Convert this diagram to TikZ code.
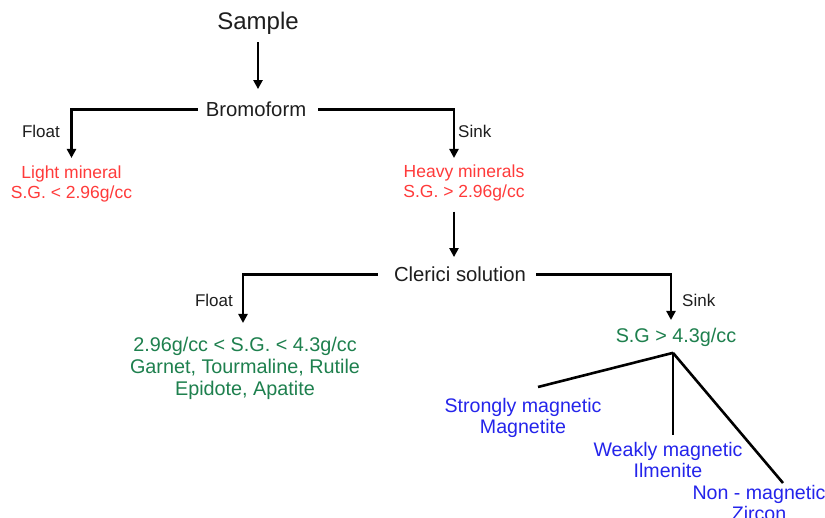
\documentclass[tikz,border=0pt]{standalone}
\usepackage{fontspec}
\setmainfont{Liberation Sans}
\usetikzlibrary{arrows.meta}
\definecolor{txtblack}{RGB}{30,30,30}
\definecolor{minred}{RGB}{255,58,58}
\definecolor{mingreen}{RGB}{30,128,78}
\definecolor{minblue}{RGB}{36,36,235}
\tikzset{
  lbl/.style={inner sep=0pt, text=txtblack},
  big/.style={lbl, font=\fontsize{24}{28}\selectfont},
  stage/.style={lbl, font=\fontsize{20.3}{24}\selectfont},
  small/.style={lbl, font=\fontsize{17}{20}\selectfont},
  redtxt/.style={inner sep=0pt, align=center, text=minred, font=\fontsize{17.5}{20}\selectfont},
  greentxt/.style={inner sep=0pt, align=center, text=mingreen, font=\fontsize{19.8}{22}\selectfont},
  bluetxt/.style={inner sep=0pt, align=center, text=minblue, font=\fontsize{19.6}{21.5}\selectfont},
  arr/.style={draw=black, line width=2.6pt, -{Triangle[width=9pt,length=9pt]}},
  branch/.style={draw=black, line width=2.6pt, line cap=butt},
}
\begin{document}
\begin{tikzpicture}[x=1pt,y=-1pt]
\clip (0,0) rectangle (825,518);
\fill[white] (0,0) rectangle (825,518);

% nodes
\node[big, anchor=base] (sample) at (258,30) {Sample};
\node[stage, anchor=base] (brom) at (256,117) {Bromoform};
\node[small, anchor=base east] (float1) at (60,138) {Float};
\node[small, anchor=base west] (sink1) at (458,138) {Sink};
\node[redtxt, anchor=north] (light) at (71.5,166) {Light mineral\\S.G. < 2.96g/cc};
\node[redtxt, anchor=north] (heavy) at (464,165) {Heavy minerals\\S.G. > 2.96g/cc};
\node[stage, anchor=base] (clerici) at (460,282) {Clerici solution};
\node[small, anchor=base east] (float2) at (233,307) {Float};
\node[small, anchor=base west] (sink2) at (682,307) {Sink};
\node[greentxt, anchor=north] (mid) at (245,337) {2.96g/cc < S.G. < 4.3g/cc\\Garnet, Tourmaline, Rutile\\Epidote, Apatite};
\node[greentxt, anchor=north] (dense) at (676,328) {S.G > 4.3g/cc};
\node[bluetxt, anchor=north] (strong) at (523,398) {Strongly magnetic\\Magnetite};
\node[bluetxt, anchor=north] (weak) at (668,442) {Weakly magnetic\\Ilmenite};
\node[bluetxt, anchor=north] (non) at (759,485) {Non - magnetic\\Zircon};

% connectors
\draw[arr, shorten <=7pt, shorten >=13pt] (sample.south) -- (sample.south |- brom.north);
\draw[arr, shorten <=8pt, shorten >=8pt] (brom.west) -| (light.north);
\draw[arr, shorten <=12pt, shorten >=7pt] (brom.east) -| ([xshift=-10pt]heavy.north);
\draw[arr, shorten <=10pt, shorten >=10pt] ([xshift=-10pt]heavy.south) -- ([xshift=-10pt]heavy.south |- clerici.north);
\draw[arr, shorten <=16pt, shorten >=14pt] (clerici.west) -| ([xshift=-2pt]mid.north);
\draw[arr, shorten <=10pt, shorten >=8pt] (clerici.east) -| ([xshift=-5pt]dense.north);

\coordinate (apex) at ([xshift=-3pt,yshift=-6pt]dense.south);
\draw[branch] (apex) -- ([xshift=15pt,yshift=11pt]strong.north);
\draw[branch] (apex) -- ([yshift=7pt]apex |- weak.north);
\draw[branch] (apex) -- ([xshift=24pt,yshift=2pt]non.north);
\end{tikzpicture}
\end{document}
